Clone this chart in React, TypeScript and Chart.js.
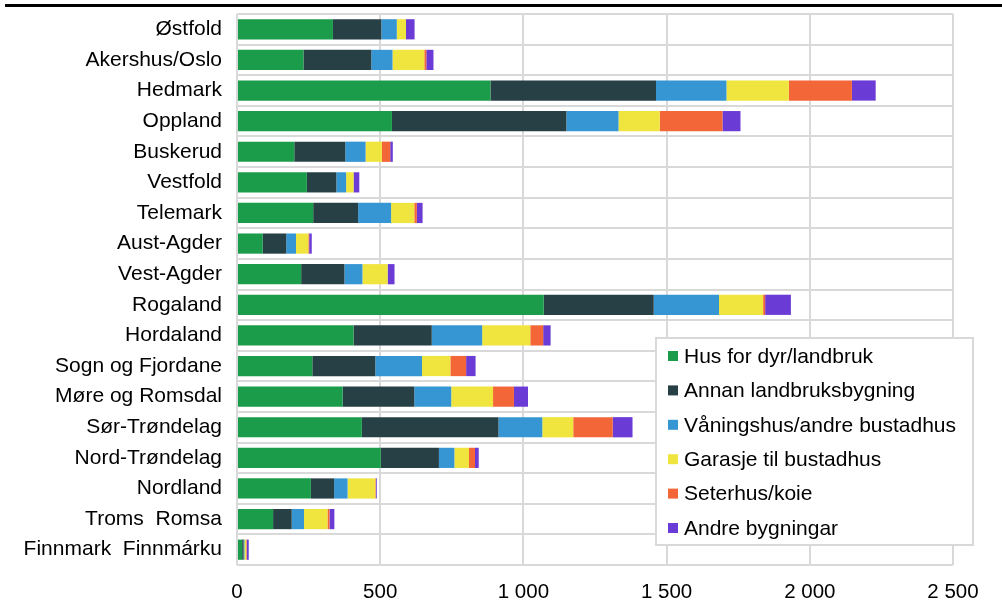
import React, { useEffect, useRef } from "react";
import { Chart, registerables } from "chart.js";

Chart.register(...registerables);

const categories = [
  "Østfold", "Akershus/Oslo", "Hedmark", "Oppland", "Buskerud", "Vestfold",
  "Telemark", "Aust-Agder", "Vest-Agder", "Rogaland", "Hordaland",
  "Sogn og Fjordane", "Møre og Romsdal", "Sør-Trøndelag", "Nord-Trøndelag",
  "Nordland", "Troms  Romsa", "Finnmark  Finnmárku",
];

const husForDyr = [335, 232, 885, 541, 200, 244, 266, 90, 224, 1071, 407, 263, 369, 436, 502, 258, 126, 18];
const annanLandbruk = [169, 237, 578, 609, 178, 103, 157, 82, 151, 384, 273, 220, 250, 477, 203, 81, 65, 5];
const vaaningshus = [54, 74, 246, 182, 71, 34, 115, 34, 63, 228, 176, 163, 129, 153, 54, 47, 43, 3];
const garasje = [32, 111, 218, 144, 57, 26, 81, 43, 88, 154, 168, 99, 146, 108, 51, 97, 82, 6];
const seterhus = [0, 7, 220, 219, 29, 0, 9, 3, 0, 7, 45, 55, 73, 138, 21, 2, 7, 2];
const andre = [30, 25, 83, 63, 9, 20, 20, 9, 24, 90, 26, 33, 49, 69, 13, 3, 17, 7];

const seriesNames = [
  "Hus for dyr/landbruk",
  "Annan landbruksbygning",
  "Våningshus/andre bustadhus",
  "Garasje til bustadhus",
  "Seterhus/koie",
  "Andre bygningar",
];
const seriesColors = ["#1b9c4a", "#274046", "#3696d3", "#f0e43f", "#f26638", "#6a3bd5"];
const seriesData = [husForDyr, annanLandbruk, vaaningshus, garasje, seterhus, andre];

const xTicks = [0, 500, 1000, 1500, 2000, 2500];

const FONT = "'Liberation Sans', Arial, sans-serif";

export default function App() {
  const ref = useRef<HTMLCanvasElement | null>(null);

  useEffect(() => {
    if (!ref.current) return;

    const decor = {
      id: "decor",
      afterDraw(chart: any) {
        const ctx = chart.ctx;
        ctx.save();
        // top black rule
        ctx.fillStyle = "#000";
        ctx.fillRect(5, 4, 997, 3);
        // legend box
        const bx = 656, by = 338, bw = 317, bh = 207;
        ctx.fillStyle = "#fff";
        ctx.fillRect(bx, by, bw, bh);
        ctx.strokeStyle = "#d9d9d9";
        ctx.lineWidth = 2;
        ctx.strokeRect(bx, by, bw, bh);
        ctx.font = `21px ${FONT}`;
        ctx.textBaseline = "middle";
        ctx.textAlign = "left";
        seriesNames.forEach((name, i) => {
          const cy = 356 + i * 34.4;
          ctx.fillStyle = seriesColors[i];
          ctx.fillRect(668, cy - 5, 10, 10);
          ctx.fillStyle = "#000";
          ctx.fillText(name, 684, cy + 1);
        });
        ctx.restore();
      },
    };

    const chart = new Chart(ref.current, {
      type: "bar",
      data: {
        labels: categories,
        datasets: seriesNames.map((name, i) => ({
          label: name,
          data: seriesData[i],
          backgroundColor: seriesColors[i],
          borderWidth: 0,
          categoryPercentage: 1,
          barPercentage: 0.66,
        })),
      },
      options: {
        indexAxis: "y",
        animation: false,
        responsive: false,
        maintainAspectRatio: false,
        layout: { padding: { left: 0, right: 49, top: 14, bottom: 0 } },
        plugins: {
          legend: { display: false },
          tooltip: { enabled: false },
        },
        scales: {
          x: {
            stacked: true,
            min: 0,
            max: 2500,
            afterFit(scale: any) {
              scale.height = 43;
            },
            afterBuildTicks(scale: any) {
              scale.ticks = xTicks.map((v) => ({ value: v }));
            },
            border: { display: false },
            grid: { color: "#d9d9d9", lineWidth: 2, drawTicks: false },
            ticks: {
              padding: 15,
              color: "#000",
              font: { family: FONT, size: 20.5 },
              maxRotation: 0,
              callback: (v: any) => {
                const n = Number(v);
                return n.toString().replace(/\B(?=(\d{3})+(?!\d))/g, " ");
              },
            },
          },
          y: {
            stacked: true,
            afterFit(scale: any) {
              scale.width = 237;
              scale.paddingTop = 0;
              scale.paddingBottom = 0;
            },
            border: { display: false },
            grid: { color: "#d9d9d9", lineWidth: 2, drawTicks: false, offset: true },
            ticks: {
              padding: 15,
              color: "#000",
              font: { family: FONT, size: 21 },
              autoSkip: false,
            },
          },
        },
      },
      plugins: [decor],
    });

    return () => chart.destroy();
  }, []);

  return (
    <div style={{ position: "fixed", left: 0, top: 0, width: 1002, height: 608, background: "#fff" }}>
      <canvas ref={ref} width={1002} height={608} style={{ display: "block" }} />
    </div>
  );
}
